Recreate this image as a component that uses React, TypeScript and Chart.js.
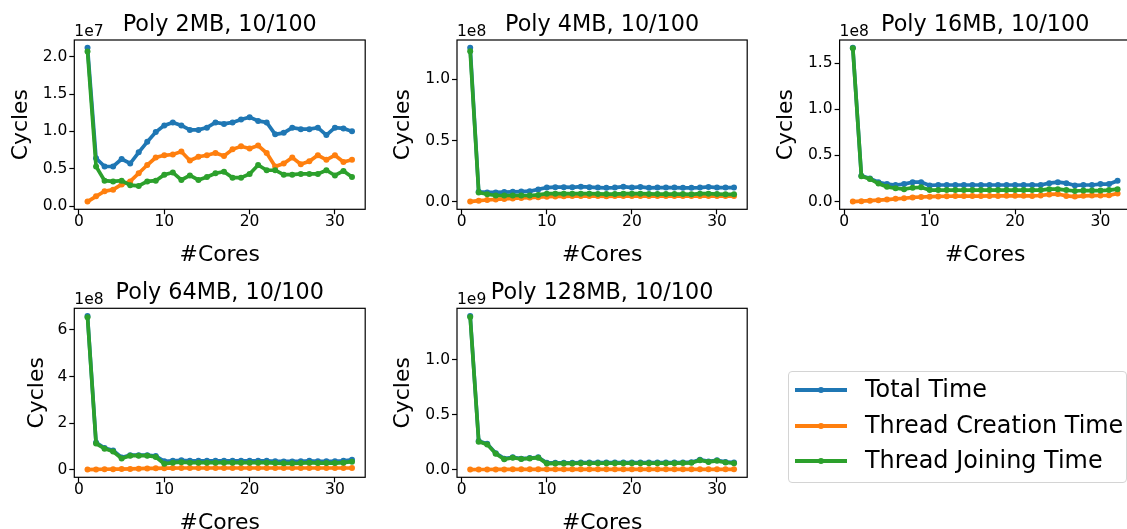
import React, { useEffect, useRef } from "react";
import { Chart, registerables } from "chart.js";

Chart.register(...registerables);

const FONT = "'DejaVu Sans', 'Liberation Sans', sans-serif";
const BLUE = "#1f77b4";
const ORANGE = "#ff7f0e";
const GREEN = "#2ca02c";

const CORES = [1, 2, 3, 4, 5, 6, 7, 8, 9, 10, 11, 12, 13, 14, 15, 16, 17, 18, 19, 20, 21, 22, 23, 24, 25, 26, 27, 28, 29, 30, 31, 32];
const X_TICKS = [0, 10, 20, 30];

// Poly 2MB (values in units of 1e7 cycles)
const poly2Total = [2.12, 0.64, 0.53, 0.53, 0.63, 0.57, 0.72, 0.86, 0.99, 1.08, 1.12, 1.08, 1.02, 1.02, 1.05, 1.12, 1.10, 1.12, 1.16, 1.19, 1.14, 1.12, 0.96, 0.98, 1.05, 1.03, 1.03, 1.05, 0.95, 1.05, 1.04, 1.00];
const poly2Creation = [0.06, 0.13, 0.20, 0.22, 0.29, 0.33, 0.44, 0.55, 0.65, 0.68, 0.69, 0.73, 0.61, 0.66, 0.68, 0.71, 0.67, 0.76, 0.80, 0.77, 0.81, 0.71, 0.53, 0.57, 0.65, 0.56, 0.60, 0.68, 0.62, 0.68, 0.59, 0.62];
const poly2Joining = [2.07, 0.53, 0.34, 0.33, 0.34, 0.28, 0.27, 0.33, 0.34, 0.42, 0.45, 0.35, 0.41, 0.35, 0.39, 0.44, 0.46, 0.38, 0.38, 0.43, 0.55, 0.48, 0.48, 0.42, 0.42, 0.43, 0.43, 0.43, 0.48, 0.41, 0.47, 0.39];

// Poly 4MB (1e8)
const poly4Total = [1.26, 0.08, 0.075, 0.075, 0.078, 0.08, 0.082, 0.085, 0.10, 0.115, 0.118, 0.118, 0.117, 0.122, 0.118, 0.115, 0.113, 0.115, 0.122, 0.115, 0.12, 0.113, 0.115, 0.115, 0.115, 0.113, 0.113, 0.115, 0.12, 0.115, 0.115, 0.115];
const poly4Creation = [0.0, 0.008, 0.013, 0.018, 0.022, 0.026, 0.03, 0.033, 0.036, 0.04, 0.042, 0.043, 0.045, 0.045, 0.045, 0.045, 0.043, 0.045, 0.045, 0.046, 0.045, 0.045, 0.045, 0.045, 0.045, 0.045, 0.045, 0.045, 0.045, 0.045, 0.045, 0.045];
const poly4Joining = [1.23, 0.075, 0.06, 0.05, 0.05, 0.05, 0.05, 0.05, 0.055, 0.065, 0.065, 0.065, 0.065, 0.065, 0.065, 0.063, 0.062, 0.062, 0.065, 0.065, 0.065, 0.063, 0.062, 0.062, 0.062, 0.062, 0.06, 0.065, 0.065, 0.062, 0.06, 0.06];

// Poly 16MB (1e8)
const poly16Total = [1.667, 0.28, 0.25, 0.21, 0.19, 0.18, 0.19, 0.21, 0.21, 0.175, 0.18, 0.18, 0.18, 0.18, 0.18, 0.18, 0.18, 0.18, 0.18, 0.18, 0.18, 0.18, 0.18, 0.2, 0.21, 0.2, 0.175, 0.18, 0.18, 0.19, 0.19, 0.225];
const poly16Creation = [0.0, 0.005, 0.01, 0.015, 0.022, 0.03, 0.036, 0.045, 0.05, 0.053, 0.056, 0.058, 0.06, 0.06, 0.06, 0.06, 0.062, 0.062, 0.063, 0.063, 0.063, 0.062, 0.066, 0.078, 0.082, 0.062, 0.055, 0.063, 0.065, 0.066, 0.068, 0.088];
const poly16Joining = [1.66, 0.275, 0.245, 0.195, 0.16, 0.145, 0.135, 0.15, 0.155, 0.125, 0.125, 0.125, 0.125, 0.125, 0.125, 0.125, 0.125, 0.125, 0.125, 0.125, 0.125, 0.125, 0.125, 0.135, 0.135, 0.125, 0.115, 0.12, 0.12, 0.12, 0.125, 0.135];

// Poly 64MB (1e8)
const poly64Total = [6.6, 1.16, 0.93, 0.82, 0.52, 0.62, 0.62, 0.62, 0.58, 0.36, 0.38, 0.4, 0.38, 0.38, 0.38, 0.38, 0.38, 0.38, 0.38, 0.38, 0.38, 0.38, 0.36, 0.35, 0.35, 0.36, 0.38, 0.36, 0.36, 0.36, 0.38, 0.42];
const poly64Creation = [0.0, 0.01, 0.015, 0.02, 0.025, 0.03, 0.04, 0.05, 0.055, 0.06, 0.065, 0.07, 0.07, 0.07, 0.07, 0.07, 0.07, 0.07, 0.07, 0.07, 0.07, 0.07, 0.07, 0.07, 0.07, 0.07, 0.07, 0.07, 0.07, 0.07, 0.07, 0.07];
const poly64Joining = [6.55, 1.12, 0.9, 0.78, 0.48, 0.6, 0.6, 0.6, 0.54, 0.25, 0.3, 0.32, 0.3, 0.3, 0.3, 0.3, 0.3, 0.3, 0.3, 0.3, 0.3, 0.3, 0.28, 0.27, 0.27, 0.28, 0.3, 0.28, 0.28, 0.28, 0.3, 0.34];

// Poly 128MB (1e9)
const poly128Total = [1.4, 0.26, 0.235, 0.15, 0.1, 0.112, 0.1, 0.105, 0.112, 0.062, 0.062, 0.062, 0.062, 0.065, 0.065, 0.065, 0.065, 0.065, 0.065, 0.065, 0.065, 0.065, 0.065, 0.065, 0.065, 0.065, 0.068, 0.09, 0.075, 0.085, 0.07, 0.065];
const poly128Creation = [0.0, 0.001, 0.001, 0.002, 0.002, 0.003, 0.003, 0.003, 0.003, 0.003, 0.003, 0.003, 0.003, 0.003, 0.003, 0.003, 0.003, 0.003, 0.003, 0.003, 0.003, 0.003, 0.003, 0.003, 0.003, 0.003, 0.003, 0.003, 0.003, 0.003, 0.003, 0.003];
const poly128Joining = [1.39, 0.255, 0.23, 0.145, 0.094, 0.108, 0.097, 0.102, 0.108, 0.055, 0.056, 0.056, 0.056, 0.058, 0.058, 0.058, 0.058, 0.058, 0.058, 0.058, 0.058, 0.058, 0.058, 0.058, 0.058, 0.06, 0.062, 0.085, 0.07, 0.08, 0.065, 0.058];

const SERIES_LABELS = ["Total Time", "Thread Creation Time", "Thread Joining Time"];

const TICKS_0_2 = [0, 0.5, 1.0, 1.5, 2.0];
const TICKS_0_1 = [0, 0.5, 1.0];
const TICKS_0_15 = [0, 0.5, 1.0, 1.5];
const TICKS_0_6 = [0, 2, 4, 6];

const CW = 1140;
const CH = 529;
const YW = 60;
const XH = 30;

const PANELS = [
  { title: "Poly 2MB, 10/100", exp: "1e7", total: poly2Total, creation: poly2Creation, joining: poly2Joining, yTicks: TICKS_0_2, dec: 1, box: { l: 74.3, t: 40, r: 365.2, b: 209.3 }, ylabelX: 26.7 },
  { title: "Poly 4MB, 10/100", exp: "1e8", total: poly4Total, creation: poly4Creation, joining: poly4Joining, yTicks: TICKS_0_1, dec: 1, box: { l: 457, t: 40, r: 747.2, b: 209.3 }, ylabelX: 409.3 },
  { title: "Poly 16MB, 10/100", exp: "1e8", total: poly16Total, creation: poly16Creation, joining: poly16Joining, yTicks: TICKS_0_15, dec: 1, box: { l: 839.6, t: 40, r: 1130.8, b: 209.3 }, ylabelX: 792 },
  { title: "Poly 64MB, 10/100", exp: "1e8", total: poly64Total, creation: poly64Creation, joining: poly64Joining, yTicks: TICKS_0_6, dec: 0, box: { l: 74.3, t: 308.3, r: 365.2, b: 477.3 }, ylabelX: 42.5 },
  { title: "Poly 128MB, 10/100", exp: "1e9", total: poly128Total, creation: poly128Creation, joining: poly128Joining, yTicks: TICKS_0_1, dec: 1, box: { l: 457, t: 308.3, r: 747.2, b: 477.3 }, ylabelX: 409.3 },
];

const decor = {
  id: "decor",
  afterDraw(chart: any, _args: any, opts: any) {
    const { ctx, chartArea: a } = chart;
    ctx.save();
    ctx.strokeStyle = "#000";
    ctx.lineWidth = 1.2;
    ctx.strokeRect(a.left, a.top, a.right - a.left, a.bottom - a.top);
    ctx.fillStyle = "#000";
    ctx.textAlign = "center";
    ctx.textBaseline = "alphabetic";
    const cx = (a.left + a.right) / 2;
    ctx.font = `22.3px ${FONT}`;
    ctx.fillText(opts.title, cx, a.top - 9.3);
    ctx.font = `21.9px ${FONT}`;
    ctx.fillText("#Cores", cx, a.bottom + 51.5);
    ctx.save();
    ctx.translate(opts.ylabelX, (a.top + a.bottom) / 2);
    ctx.rotate(-Math.PI / 2);
    ctx.fillText("Cycles", 0, 0);
    ctx.restore();
    ctx.font = `15.5px ${FONT}`;
    ctx.textAlign = "left";
    ctx.fillText(opts.exp, a.left, a.top - 4.5);
    ctx.restore();
  },
};

function mk(label: string, vals: number[], color: string, order: number) {
  return {
    label,
    data: CORES.map((c, i) => ({ x: c, y: vals[i] })),
    borderColor: color,
    backgroundColor: color,
    pointBackgroundColor: color,
    pointBorderWidth: 0,
    pointRadius: 3,
    borderWidth: 3.7,
    tension: 0,
    order,
    clip: 0,
  };
}

function Panel({ p }: { p: any }) {
  const ref = useRef<HTMLCanvasElement>(null);
  useEffect(() => {
    const all = [...p.total, ...p.creation, ...p.joining];
    const lo = Math.min(...all);
    const hi = Math.max(...all);
    const m = 0.05 * (hi - lo);
    const xlo = CORES[0];
    const xhi = CORES[CORES.length - 1];
    const xm = 0.05 * (xhi - xlo);
    const tickFont = { family: FONT, size: 15.5, lineHeight: 1 };
    const chart = new Chart(ref.current as HTMLCanvasElement, {
      type: "line",
      data: {
        datasets: [
          mk(SERIES_LABELS[0], p.total, BLUE, 3),
          mk(SERIES_LABELS[1], p.creation, ORANGE, 2),
          mk(SERIES_LABELS[2], p.joining, GREEN, 1),
        ] as any,
      },
      options: {
        animation: false,
        responsive: false,
        devicePixelRatio: 1,
        events: [],
        layout: {
          padding: { left: p.box.l - YW, top: p.box.t, right: CW - p.box.r, bottom: CH - p.box.b - XH },
        },
        plugins: {
          legend: { display: false },
          tooltip: { enabled: false },
          decor: { title: p.title, exp: p.exp, ylabelX: p.ylabelX },
        } as any,
        scales: {
          x: {
            type: "linear",
            min: xlo - xm,
            max: xhi + xm,
            afterBuildTicks: (s: any) => {
              s.ticks = X_TICKS.map((v) => ({ value: v }));
            },
            afterFit: (s: any) => {
              s.height = XH;
            },
            grid: { display: true, drawOnChartArea: false, drawTicks: true, tickLength: 5, tickColor: "#000", tickWidth: 1.2 },
            border: { display: false },
            ticks: { font: tickFont, color: "#000", padding: 0, maxRotation: 0, autoSkip: false, callback: (v: any) => String(v) },
          },
          y: {
            type: "linear",
            min: lo - m,
            max: hi + m,
            afterBuildTicks: (s: any) => {
              s.ticks = p.yTicks.map((v: number) => ({ value: v }));
            },
            afterFit: (s: any) => {
              s.width = YW;
            },
            grid: { display: true, drawOnChartArea: false, drawTicks: true, tickLength: 5, tickColor: "#000", tickWidth: 1.2 },
            border: { display: false },
            ticks: { font: tickFont, color: "#000", padding: 2, autoSkip: false, callback: (v: any) => Number(v).toFixed(p.dec) },
          },
        } as any,
      },
      plugins: [decor as any],
    });
    return () => chart.destroy();
  }, []);
  return <canvas ref={ref} width={CW} height={CH} style={{ position: "absolute", left: 0, top: 0 }} />;
}

const LEGEND_COLORS = [BLUE, ORANGE, GREEN];
const LEGEND_ROWS_Y = [390, 425.5, 460.5];

function Legend() {
  return (
    <>
      <div
        style={{
          position: "absolute",
          left: 787.5,
          top: 370.5,
          width: 339,
          height: 112.5,
          border: "1px solid #d4d4d4",
          borderRadius: 4,
          background: "rgba(255,255,255,0.8)",
          boxSizing: "border-box",
        }}
      />
      {SERIES_LABELS.map((lab, i) => (
        <React.Fragment key={lab}>
          <div style={{ position: "absolute", left: 795, top: LEGEND_ROWS_Y[i] - 2, width: 52, height: 4, background: LEGEND_COLORS[i] }} />
          <div style={{ position: "absolute", left: 818, top: LEGEND_ROWS_Y[i] - 3, width: 6, height: 6, borderRadius: 3, background: LEGEND_COLORS[i] }} />
          <div
            style={{
              position: "absolute",
              left: 865,
              top: LEGEND_ROWS_Y[i] - 14.8,
              fontFamily: FONT,
              fontSize: 23.9,
              lineHeight: "28px",
              color: "#000",
              whiteSpace: "nowrap",
            }}
          >
            {lab}
          </div>
        </React.Fragment>
      ))}
    </>
  );
}

export default function App() {
  return (
    <div style={{ position: "absolute", left: 0, top: 0, width: 1127, height: 529, overflow: "hidden", background: "#fff" }}>
      {PANELS.map((p) => (
        <Panel key={p.title} p={p} />
      ))}
      <Legend />
    </div>
  );
}
